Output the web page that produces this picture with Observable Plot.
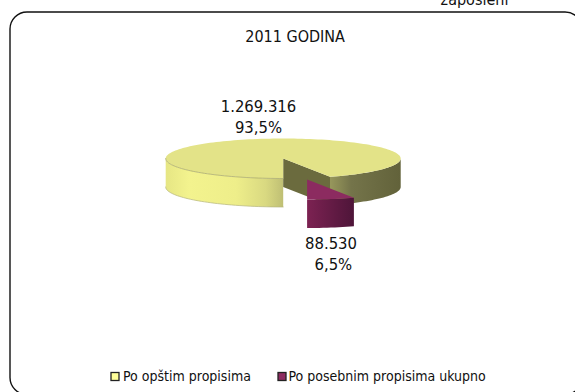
<!DOCTYPE html>
<html><head><meta charset="utf-8">
<script src="https://cdn.jsdelivr.net/npm/d3@7"></script>
<script src="https://cdn.jsdelivr.net/npm/@observablehq/plot@0.6"></script>
<style>html,body{margin:0;padding:0;background:#fff;overflow:hidden}svg{display:block}</style>
</head><body><div id="chart"></div>
<script>
const title = "2011 GODINA";
const cornerNote = "zaposleni";
const categories = ["Po opštim propisima", "Po posebnim propisima ukupno"];
const values = [1269316, 88530];
const valueLabels = ["1.269.316", "88.530"];
const percentLabels = ["93,5%", "\u00a06,5%"];
const FONT = "'DejaVu Sans Condensed', 'DejaVu Sans', sans-serif";

const total = d3.sum(values);
const W = 575, H = 392;
const cx = 282.7, cy = 158, rx = 117.5, ry = 20, depth = 28.5;
const startAngle = 180;
const sweep0 = values[0] / total * 360;
const end0 = startAngle + sweep0;
const bis = (end0 - 360 + startAngle) / 2 * Math.PI / 180;
const ox = Math.sin(bis) * rx * 1.0, oy = -Math.cos(bis) * ry * 1.0 + 1.4;

const pt = (a, dx = 0, dy = 0, z = 0) => {
  const t = a * Math.PI / 180;
  return {x: cx + dx + rx * Math.sin(t), y: cy + dy - ry * Math.cos(t) + z};
};
const arc = (a0, a1, dx = 0, dy = 0, z = 0) => {
  const n = Math.max(2, Math.ceil(Math.abs(a1 - a0) / 2));
  return d3.range(n + 1).map(i => pt(a0 + (a1 - a0) * i / n, dx, dy, z));
};
const wall = (a0, a1, dx = 0, dy = 0) => [...arc(a0, a1, dx, dy, 0), ...arc(a1, a0, dx, dy, depth)];
const apex = (dx = 0, dy = 0, z = 0) => ({x: cx + dx, y: cy + dy + z});

const yellowTop = [apex(), ...arc(startAngle, end0)];
const yellowLeft = wall(180, 270);
const yellowRight = wall(end0 - 360, 90);
const cutFace = [apex(), pt(end0 - 360), pt(end0 - 360, 0, 0, depth), apex(0, 0, depth)];
const purpleTop = [apex(ox, oy), ...arc(end0 - 360, 180, ox, oy)];
const purpleWall = wall(end0 - 360, 180, ox, oy);

const poly = (data, fill) => Plot.line(data, {x: "x", y: "y", fill, stroke: null, curve: "linear"});
const edge = (data, stroke) => Plot.line(data, {x: "x", y: "y", stroke, strokeWidth: 0.7, curve: "linear"});

const gradient = (id, stops) => `<linearGradient id="${id}" x1="0" x2="1" y1="0" y2="0">` +
  stops.map(([o, c]) => `<stop offset="${o}" stop-color="${c}"/>`).join("") + `</linearGradient>`;
const defs = () => {
  const g = document.createElementNS("http://www.w3.org/2000/svg", "g");
  g.innerHTML = "<defs>" +
    gradient("gLeft", [[0, "#e6e684"], [0.2, "#f3f38e"], [0.6, "#eeee8a"], [0.85, "#d9d981"], [1, "#bfbf74"]]) +
    gradient("gRight", [[0, "#97975c"], [0.12, "#8a8a55"], [0.3, "#74744a"], [1, "#62623a"]]) +
    gradient("gPurple", [[0, "#7c2252"], [1, "#4e1539"]]) + "</defs>";
  return g;
};

const plot = Plot.plot({
  width: W, height: H, margin: 0,
  x: {domain: [0, W], range: [0, W], axis: null},
  y: {domain: [0, H], range: [0, H], axis: null},
  style: {background: "#fff", fontFamily: FONT},
  marks: [
    defs,
    Plot.rect([{x1: 10, x2: 582, y1: 12, y2: 394.5}], {x1: "x1", x2: "x2", y1: "y1", y2: "y2", rx: 17, fill: "#fff", stroke: "#111", strokeWidth: 1.4}),
    Plot.text([cornerNote], {x: 474, y: -1, text: d => d, fontSize: 16, fill: "#111", fontFamily: FONT}),
    Plot.text([title], {x: 294.6, y: 36.5, text: d => d, fontSize: 16, fill: "#111", fontFamily: FONT}),
    poly(yellowLeft, "url(#gLeft)"),
    poly(yellowRight, "url(#gRight)"),
    poly(cutFace, "#6b6b3e"),
    poly(yellowTop, "#e3e388"),
    edge(arc(180, 270), "#a3a36a"),
    edge(arc(180, 270, 0, 0, depth), "#b5b57c"),
    poly(purpleWall, "url(#gPurple)"),
    poly(purpleTop, "#8c2b60"),
    Plot.text(valueLabels, {x: [258, 330.5], y: [115.5, 252.5], text: (d, i) => `${d}\n${percentLabels[i]}`, lineHeight: 1.22, fontSize: 16.5, fill: "#111", fontFamily: FONT}),
    Plot.rect(categories, {x1: (d, i) => [111, 278][i], x2: (d, i) => [119, 286][i], y1: 372.5, y2: 380.5, fill: (d, i) => ["#ffff99", "#8c2b60"][i], stroke: "#222", strokeWidth: 1.3}),
    Plot.text(categories, {x: (d, i) => [122.5, 288][i], y: 376.5, text: d => d, textAnchor: "start", fontSize: 14, fill: "#111", fontFamily: FONT})
  ]
});
document.getElementById("chart").append(plot);
</script></body></html>
